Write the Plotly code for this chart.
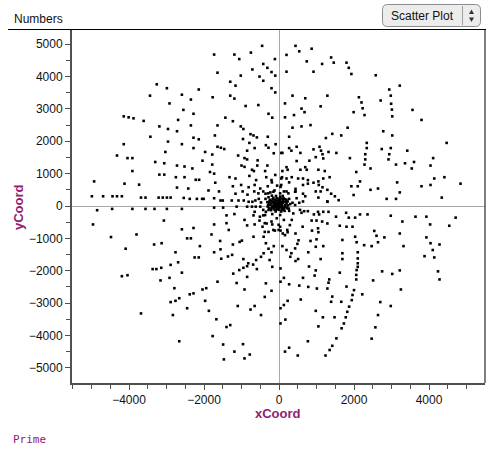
import plotly.graph_objects as go

# (xCoord, yCoord) values, grouped by region
upper_left = [
(-450,4950),(-1730,4680),(-1190,4680),(-1060,4540),(-750,4740),(-110,4540),(-420,4390),(-310,4270),
(-200,4140),(-100,4030),(-710,4220),(-1640,4120),(-1300,3840),(-1160,3720),(-1020,4030),(-520,4000),
(-420,3870),(-200,3640),(-100,3510),(-3260,3760),(-2990,3640),(-3440,3410),(-2590,3440),(-2140,3600),
(-2350,3290),(-1770,3360),(-1300,3410),(-1190,3320),(-2920,3170),(-890,3090),(-550,3120),(-280,2850),
(-180,2730),(-2550,2970),(-2280,2850),(-4140,2770),(-4010,2740),(-3880,2710),(-3610,2630),(-1430,2730),
(-1230,2620),(-2690,2660),(-3190,2460),(-2960,2380),(-1640,2490),(-2350,2490),(-1020,2460),(-950,2380),
(-2720,2310),(-3430,2140),(-1710,2180),(-760,2220),(-680,2180),(-590,2120),(-300,2140),(-960,2070),
(-2280,2110),(-2140,2060),(-4140,1910),(-2960,1990),(-2590,1910),(-790,1950),(-1640,1830),(-1550,1800),
(-1460,1760),(-2280,1790),(-350,1880),(-280,1800),(-90,1910),(-850,1710),(-650,1790),(-1970,1670),
(-3030,1670),(-4320,1560),(-4040,1480),(-3910,1480),(-1780,1590),(-1090,1560),(-920,1480),(-850,1440),
(-140,1630),(60,1640),(-570,1410),(-2040,1400),(-3300,1360),(-3060,1320),(-3910,1080),(-2720,1250),
(-2520,1220),(-2310,1160),(-1780,1280),(-1000,1250),(-920,1210),(-580,1250),(-310,1250),(-1840,1050),
(-1730,1000),(-3190,970),(-3060,970),(-2750,890),(-2520,890),(-2220,810),(-2130,810),(-1320,890),
(-1160,850),(-720,1120),(-670,1080),(-370,1080),(-100,960),(80,890),(-790,930),(-340,890),
(-200,800),(-610,800),(-4120,690),(-3730,660),(-1700,720),(-1230,610),(-1010,650),(-810,580),
(-650,650),(-190,730),(-50,630),(-300,610),(-2720,570),(-2420,540),(-1880,480),(-1600,450),
(-1160,380),(-970,450),(-840,350),(-660,450),(-420,450),(-500,540),(-360,380),(-230,420),
(-120,480),(40,590),(-4930,760),(-4990,300),(-4690,300),(-4440,300),(-4320,300),(-4190,300),
(-3680,260),(-3560,260),(-3210,260),(-3100,260),(-2990,260),(-2890,260),(-2540,250),(-2380,220),
(-2190,220),(-2050,220),(-2010,220),(-1730,240),(-1560,170),(-1500,170),(-1260,170),(-1080,170),
(-940,170),(-810,130),(-710,130),(-630,170),(-540,220),(-480,110),(-360,220),(-280,270),(-190,320),
]

upper_right = [
(440,4950),(540,4780),(870,4860),(200,4670),(740,4470),(1150,4390),(1390,4590),(1460,4430),
(1800,4430),(1860,4270),(1930,4080),(200,4150),(920,4150),(2580,4040),(3220,3720),(2940,3600),
(360,3410),(700,3330),(1290,3410),(2130,3360),(2200,3200),(2710,3260),(2980,3410),(2990,3160),
(160,3170),(1110,3080),(600,3010),(680,2900),(2230,3020),(1990,2900),(2280,2810),(3010,2980),
(3020,2770),(3560,2970),(3800,2660),(160,2740),(400,2810),(360,2420),(600,2460),(840,2500),
(1830,2420),(2780,2310),(3020,2180),(270,2140),(1250,2100),(1420,2230),(1660,2180),(2340,1950),
(2340,1790),(2740,1760),(2980,1790),(3420,1710),(4470,1950),(90,1640),(270,1790),(330,1710),
(470,1830),(570,1640),(920,1750),(1080,1830),(1120,1710),(1160,1600),(1320,1670),(1530,1640),
(1890,1480),(2300,1600),(2300,1440),(2940,1600),(2920,1440),(3360,1320),(3600,1360),(4110,1480),
(4040,1250),(3120,1280),(2280,1280),(2440,1160),(3540,1160),(470,1390),(810,1400),(980,1510),
(1180,1470),(200,1200),(230,1120),(570,1120),(700,1200),(740,1120),(1050,1120),(1220,1080),
(1350,890),(2060,1050),(90,1080),(340,890),(510,850),(640,850),(770,800),(920,720),
(1050,760),(1180,850),(60,850),(200,850),(770,690),(640,650),(1060,650),(1160,580),
(2160,760),(1930,610),(2100,610),(3150,730),(4140,850),(4410,890),(4840,690),(3800,610),
(4040,650),(60,650),(270,730),(980,450),(1110,450),(1290,500),(1390,380),(1490,300),
(1590,180),(640,380),(700,300),(440,530),(440,450),(1990,340),(2440,500),(2640,540),
(3220,420),(2870,220),(3120,220),(4340,260),(1050,260),(1290,140),(540,100),(640,140),
(360,100),(270,220),(130,450),(200,450),
]

lower_left = [
(-4850,-130),(-4450,-90),(-3910,-90),(-3560,-90),(-3320,-90),(-2990,-90),(-2590,-90),(-1730,-50),
(-1490,-50),(-1130,-20),(-850,-20),(-720,-20),(-620,-20),(-500,-20),(-4960,-570),(-4480,-960),
(-3800,-880),(-3070,-450),(-2590,-720),(-2280,-680),(-1730,-570),(-1400,-530),(-1400,-290),(-1190,-250),
(-650,-180),(-920,-430),(-850,-600),(-650,-570),(-680,-290),(-520,-450),(-420,-290),(-350,-180),
(-280,-120),(-180,-250),(-380,-530),(-440,-640),(-180,-570),(-110,-760),(-280,-800),(-380,-800),
(-410,-950),(-680,-950),(-10,-580),(-10,-740),(-350,-1150),(-280,-1320),(-200,-1430),(-140,-1240),
(-250,-1670),(-180,-1880),(-350,-2390),(-200,-2620),(-380,-2810),(-480,-3370),(-1340,-740),(-1800,-880),
(-1050,-1110),(-990,-1070),(-1230,-1190),(-1570,-1080),(-1560,-1340),(-1730,-1430),(-1540,-1630),(-1360,-1560),
(-1250,-1510),(-950,-1640),(-820,-1770),(-610,-1670),(-480,-1570),(-410,-1460),(-590,-1950),(-690,-1810),
(-850,-1860),(-950,-1910),(-1060,-1980),(-1220,-2090),(-1130,-2380),(-850,-2190),(-920,-2580),(-4090,-1320),
(-3330,-1190),(-3130,-1150),(-2450,-1000),(-2350,-1000),(-2110,-1240),(-2760,-1430),(-2250,-1590),(-2140,-1590),
(-2690,-1740),(-2890,-1820),(-3140,-1910),(-3370,-1950),(-3270,-1950),(-2590,-2060),(-4190,-2170),(-4040,-2140),
(-3160,-2300),(-2920,-2220),(-1640,-2340),(-2790,-2540),(-2040,-2580),(-1940,-2540),(-2380,-2730),(-2280,-2700),
(-2660,-2850),(-2760,-2930),(-2890,-2970),(-1970,-2930),(-2450,-3160),(-1870,-3240),(-2830,-3370),(-3680,-3320),
(-1100,-3090),(-760,-3200),(-650,-3090),(-1670,-3500),(-1400,-3740),(-1300,-3680),(-1770,-4020),(-1490,-4280),
(-1190,-4500),(-960,-4270),(-920,-4710),(-780,-4590),(-1470,-4740),(-2660,-4180),
]

lower_right = [
(40,-1930),(40,-2340),(40,-3160),(40,-3630),
(1290,130),(600,-210),(670,-160),(770,-160),(930,-260),(1070,-260),(1180,-180),(1320,-180),
(1040,-180),(1520,-330),(1790,-210),(1860,-360),(2030,-360),(2160,-260),(2360,-260),(2980,-300),
(3640,-330),(3930,-330),(4710,-360),(4540,-610),(4030,-570),(3290,-480),(870,-450),(1000,-450),
(1150,-480),(1290,-540),(630,-640),(1620,-610),(1800,-640),(1960,-640),(880,-760),(1040,-690),
(1050,-810),(440,-850),(230,-810),(100,-850),(40,-760),(2030,-950),(2070,-1120),(1690,-1050),
(2540,-770),(2600,-920),(2640,-1120),(2810,-970),(3220,-850),(2270,-1210),(2470,-1240),(3320,-1240),
(3930,-970),(4040,-1150),(4280,-1190),(4100,-1360),(4140,-1590),(3880,-1550),(840,-1080),(1000,-1030),
(980,-1260),(1180,-1240),(520,-1060),(490,-1170),(430,-1310),(90,-1240),(200,-1360),(330,-1460),
(300,-1570),(440,-1700),(510,-1640),(780,-1430),(1110,-1640),(1690,-1460),(1690,-1640),(2100,-1430),
(2100,-1620),(2100,-1770),(2100,-1880),(2070,-1980),(2060,-2130),(2060,-2270),(2510,-2300),(2750,-2020),
(3020,-2100),(3220,-1990),(3250,-2580),(4240,-2020),(4280,-2270),(800,-1870),(980,-1990),(950,-2150),
(1340,-2270),(1320,-2370),(1290,-2550),(1620,-2060),(1800,-2490),(2000,-2600),(1960,-2750),(1940,-2910),
(1870,-3110),(1820,-3270),(1780,-3440),(1730,-3630),(1670,-3780),(1530,-4090),(1420,-4320),(1350,-4450),
(1240,-4620),(2220,-2730),(1420,-2800),(1390,-2960),(1660,-2960),(2700,-2970),(2980,-3090),(2640,-3370),
(2570,-3750),(2470,-4100),(1170,-3440),(1480,-3440),(980,-3240),(1050,-3720),(770,-4180),(160,-4500),
(270,-4380),(500,-4620),(640,-2220),(130,-2220),(270,-2420),(540,-2460),(780,-2500),(1010,-2550),
(580,-2890),(230,-2930),(130,-3060),(170,-3510),(130,-430),
]

center = [
(-240,190),(-150,130),(-60,240),(30,190),(120,130),(-20,30),(-110,-20),(-200,80),(70,-20),(160,30),
(200,190),(-290,30),(30,290),(-60,100),(-170,210),(120,240),(-20,-70),(-130,60),(40,100),(-260,100),
(130,-70),(-80,310),(10,-120),(-200,-70),(200,80),(-110,190),(70,60),(-40,-20),(-170,0),(100,310),
(-260,-70),(160,210),(10,170),(-80,-120),(220,-70),
(-290,390),(-150,440),(30,390),(250,390),(430,440),(470,240),(430,30),(380,-230),(340,-430),(290,-590),
(220,-740),(160,-900),(-420,-120),(-370,-280),(-510,-330),(-330,-540),(-200,-480),(-60,-380),(30,-280),
(120,-120),(200,-20),(-150,-740),(30,-640),(560,-120),(-550,390),
(-20,0),(20,20),(-40,40),(50,-40),(0,60),(-70,10),(80,20),(-30,-40),(40,50),(-90,70),
(90,-50),(-50,-60),(60,130),(-120,120),(150,-20),(-140,-60),(100,100),(-100,30),(0,-40),(-10,120),
(110,180),(-200,150),(180,130),(-180,-30),(170,-40),(-60,170),(60,230),(-230,30),(240,20),(-40,-100),
(80,-100),(-120,-110),(260,-80),(-250,150),(0,220),(-150,250),(230,140),(-300,-20),(300,60),(-90,-170),
(60,-170),(150,-150),(-210,-130),(270,-150),(-310,120),
]

x_ticks = [-4000, -2000, 0, 2000, 4000]
y_ticks = [-5000, -4000, -3000, -2000, -1000, 0, 1000, 2000, 3000, 4000, 5000]

all_points = upper_left + upper_right + lower_left + lower_right + center
xCoord = [p[0] for p in all_points]
yCoord = [p[1] for p in all_points]

W, H = 487, 449
L, R, T, B = 72, 2, 29, 66
PW, PH = W - L - R, H - T - B
PURPLE = "#93206e"

def px(x):
    return (x - L) / PW

def py(y):
    return 1 - (y - T) / PH

fig = go.Figure(go.Scatter(
    x=xCoord, y=yCoord, mode="markers",
    marker=dict(symbol="square", size=2.6, color="black", line=dict(width=0)),
    hoverinfo="x+y",
))

axis_common = dict(
    showgrid=False, zeroline=True, zerolinecolor="#a8a8a8", zerolinewidth=1,
    showline=True, linecolor="#505050", linewidth=2,
    ticks="outside", ticklen=5, tickwidth=1, tickcolor="#505050",
    tickfont=dict(family="Liberation Sans, Arial, sans-serif", size=12, color="#111"),
)

fig.update_layout(
    width=W, height=H,
    margin=dict(l=L, r=R, t=T, b=B),
    paper_bgcolor="white", plot_bgcolor="white",
    showlegend=False,
    xaxis=dict(range=[-5520, 5493], tickvals=x_ticks,
               minor=dict(dtick=500, ticks="outside", ticklen=4, tickcolor="#505050"),
               **axis_common),
    yaxis=dict(range=[-5470, 5470], tickvals=y_ticks,
               minor=dict(dtick=500, ticks="outside", ticklen=4, tickcolor="#505050"),
               **axis_common),
)

shapes = [
    dict(type="line", xref="paper", yref="paper", x0=px(8), x1=px(486), y0=py(29.5), y1=py(29.5),
         line=dict(color="black", width=1)),
    dict(type="line", xref="paper", yref="paper", x0=px(485), x1=px(485), y0=py(29.5), y1=py(383),
         line=dict(color="black", width=1)),
]

bx0, bx1, by0, by1, rr = 382.5, 480.5, 4.5, 26.5, 5
path = (f"M {px(bx0+rr)},{py(by0)} L {px(bx1-rr)},{py(by0)} "
        f"Q {px(bx1)},{py(by0)} {px(bx1)},{py(by0+rr)} L {px(bx1)},{py(by1-rr)} "
        f"Q {px(bx1)},{py(by1)} {px(bx1-rr)},{py(by1)} L {px(bx0+rr)},{py(by1)} "
        f"Q {px(bx0)},{py(by1)} {px(bx0)},{py(by1-rr)} L {px(bx0)},{py(by0+rr)} "
        f"Q {px(bx0)},{py(by0)} {px(bx0+rr)},{py(by0)} Z")
shapes.append(dict(type="path", xref="paper", yref="paper", path=path,
                   fillcolor="#ececec", line=dict(color="#8c8c8c", width=1)))
shapes.append(dict(type="line", xref="paper", yref="paper", x0=px(462.5), x1=px(462.5),
                   y0=py(6), y1=py(25), line=dict(color="#a0a0a0", width=1)))
ax = 471.5
shapes.append(dict(type="path", xref="paper", yref="paper",
                   path=f"M {px(ax-2.5)},{py(14)} L {px(ax+2.5)},{py(14)} L {px(ax)},{py(9.5)} Z",
                   fillcolor="#333", line=dict(width=0)))
shapes.append(dict(type="path", xref="paper", yref="paper",
                   path=f"M {px(ax-2.5)},{py(17.5)} L {px(ax+2.5)},{py(17.5)} L {px(ax)},{py(22)} Z",
                   fillcolor="#333", line=dict(width=0)))
fig.update_layout(shapes=shapes)

ann = [
    dict(text="Numbers", x=px(12), y=py(19), xanchor="left", yanchor="middle",
         font=dict(family="Liberation Sans, Arial, sans-serif", size=12, color="#111")),
    dict(text="Scatter Plot", x=px(422), y=py(16), xanchor="center", yanchor="middle",
         font=dict(family="Liberation Sans, Arial, sans-serif", size=12, color="#111")),
    dict(text="<b>xCoord</b>", x=px(278), y=py(414), xanchor="center", yanchor="middle",
         font=dict(family="Liberation Sans, Arial, sans-serif", size=13, color=PURPLE)),
    dict(text="<b>yCoord</b>", x=px(18), y=py(207), xanchor="center", yanchor="middle",
         textangle=-90,
         font=dict(family="Liberation Sans, Arial, sans-serif", size=13, color=PURPLE)),
    dict(text="Prime", x=px(11), y=py(439), xanchor="left", yanchor="middle",
         font=dict(family="DejaVu Sans Mono, monospace", size=11, color=PURPLE)),
]
for a in ann:
    a.update(xref="paper", yref="paper", showarrow=False)
fig.update_layout(annotations=ann)

fig.write_html("out.html", config={"displayModeBar": False},
               post_script="document.body.style.margin='0';document.body.style.overflow='hidden';")
